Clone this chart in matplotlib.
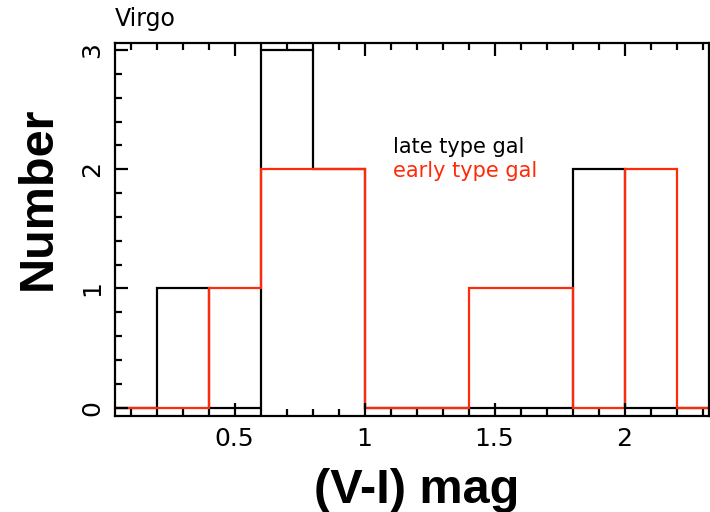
import numpy as np
import matplotlib.pyplot as plt
from matplotlib.ticker import MultipleLocator

# colour bins, width 0.2 mag
bin_edges = [0.0, 0.2, 0.4, 0.6, 0.8, 1.0, 1.2, 1.4, 1.6, 1.8, 2.0, 2.2, 2.4]
late_counts = [0, 1, 0, 3, 2, 0, 0, 0, 0, 2, 0, 0]
early_counts = [0, 0, 1, 2, 2, 0, 0, 1, 1, 0, 2, 0]

x_ticks = [0.5, 1, 1.5, 2]
x_tick_labels = ["0.5", "1", "1.5", "2"]
y_ticks = [0, 1, 2, 3]

fig = plt.figure(figsize=(7.1, 5.12), dpi=100)
ax = fig.add_axes([0.162, 0.1875, 0.8366, 0.7285])

ax.stairs(late_counts, bin_edges, color="black", linewidth=1.6)
ax.stairs(early_counts, bin_edges, color="#ff2a0a", linewidth=1.6)

ax.set_xlim(0.04, 2.325)
ax.set_ylim(-0.07, 3.06)

ax.xaxis.set_major_locator(MultipleLocator(0.5))
ax.xaxis.set_minor_locator(MultipleLocator(0.1))
ax.yaxis.set_major_locator(MultipleLocator(1))
ax.yaxis.set_minor_locator(MultipleLocator(0.2))
ax.set_xticks(x_ticks)
ax.set_xticklabels(x_tick_labels)
ax.set_yticks(y_ticks)

ax.tick_params(which="both", direction="in", top=True, right=False, width=1.6,
               labelsize=18, colors="black")
ax.tick_params(which="major", length=9.5, pad=8)
ax.tick_params(which="minor", length=5)
for lab in ax.get_yticklabels():
    lab.set_rotation(90)
    lab.set_va("center")

for sp in ax.spines.values():
    sp.set_linewidth(1.6)

# axis titles placed by hand, the y one sits above the axes centre
fig.text(0.587, 0.0176, "(V-I) mag", fontsize=35, fontweight="bold",
         family="Liberation Sans", ha="center", va="baseline")
fig.text(0.054, 0.613, "Number", fontsize=35, fontweight="bold",
         family="Liberation Sans", rotation=90, ha="center", va="center")

fig.text(0.162, 0.962, "Virgo", fontsize=17, va="center", ha="left")
ax.text(0.468, 0.721, "late type gal", transform=ax.transAxes,
        fontsize=15, color="black", va="center", ha="left")
ax.text(0.468, 0.657, "early type gal", transform=ax.transAxes,
        fontsize=15, color="#ff2a0a", va="center", ha="left")

fig.savefig("out.png", dpi=100)
